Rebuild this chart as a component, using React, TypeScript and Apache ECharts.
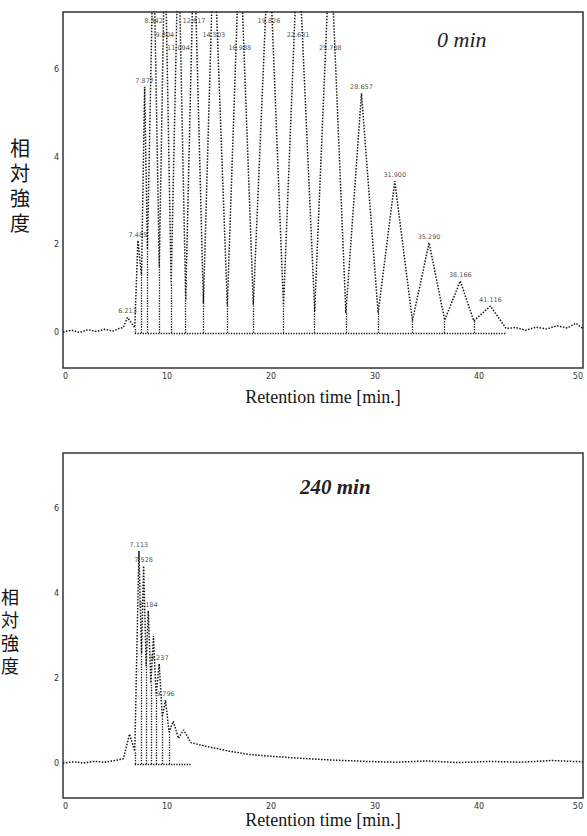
import React, { useEffect, useRef } from "react";
import * as echarts from "echarts";

// ---------- Top panel (0 min) ----------
const topNoiseBefore: [number, number][] = [
  [0, 0.02], [0.8, 0.06], [1.6, 0.01], [2.4, 0.07], [3.2, 0.03], [4.0, 0.08], [4.8, 0.04], [5.4, 0.1], [5.8, 0.12],
];
const topPeakTimes = [6.2, 7.2, 7.85, 8.7, 9.8, 11.1, 12.6, 14.5, 17.0, 19.8, 22.6, 25.7, 28.7, 31.9, 35.2, 38.2, 41.1];
const topPeakHeights = [0.35, 2.1, 5.6, 9, 9, 9, 9, 9, 9, 9, 9, 9, 5.45, 3.45, 2.05, 1.18, 0.61];
const topPeakLabels = [
  "6.213", "7.485", "7.877", "8.342", "9.804", "11.094", "12.617", "14.503", "16.988",
  "19.826", "22.631", "25.708", "28.657", "31.900", "35.290", "38.166", "41.116",
];
const topValleyTimes = [6.9, 7.55, 8.12, 9.26, 10.4, 11.8, 13.5, 15.8, 18.3, 21.2, 24.2, 27.2, 30.3, 33.6, 36.7, 39.5, 42.6];
const topValleyHeights = [0.12, 1.3, 1.9, 1.5, 1.1, 0.75, 0.66, 0.62, 0.64, 0.6, 0.5, 0.45, 0.45, 0.28, 0.29, 0.27, 0.1];
const topNoiseAfter: [number, number][] = [
  [43.5, 0.12], [44.5, 0.06], [45.5, 0.13], [46.5, 0.09], [47.5, 0.16], [48.5, 0.11], [49.3, 0.22], [50, 0.1],
];

// ---------- Bottom panel (240 min) ----------
const botNoiseBefore: [number, number][] = [
  [0, 0.02], [1, 0.05], [2, 0.02], [3, 0.06], [4, 0.04], [5, 0.08], [5.8, 0.12],
];
const botPeakTimes = [6.4, 7.3, 7.75, 8.2, 8.7, 9.25, 9.85, 10.6, 11.6];
const botPeakHeights = [0.7, 5.0, 4.65, 3.6, 3.0, 2.35, 1.5, 1.0, 0.8];
const botPeakLabels = ["", "7.113", "7.528", "8.184", "", "9.237", "9.796", "", ""];
const botValleyTimes = [6.9, 7.55, 8.0, 8.45, 8.95, 9.55, 10.2, 11.1, 12.3];
const botValleyHeights = [0.3, 2.6, 2.3, 1.9, 1.6, 1.1, 0.75, 0.6, 0.5];
const botNoiseAfter: [number, number][] = [
  [14, 0.4], [16, 0.3], [18, 0.22], [20, 0.18], [23, 0.13], [26, 0.09], [29, 0.06], [32, 0.04],
  [35, 0.07], [38, 0.03], [41, 0.06], [44, 0.04], [47, 0.08], [50, 0.05],
];

const xTicks = [0, 10, 20, 30, 40, 50];
const yTicks = [0, 2, 4, 6];
const yName = ["相", "対", "強", "度"];
const Y_MIN = -0.8;
const Y_MAX = 7.3;
const LABEL_LEVELS = [6.95, 6.65, 6.35];

function buildTrace(
  before: [number, number][],
  pt: number[], ph: number[], vt: number[], vh: number[],
  after: [number, number][]
) {
  const pts: [number, number][] = [...before];
  pt.forEach((t, i) => pts.push([t, ph[i]]));
  vt.forEach((t, i) => pts.push([t, vh[i]]));
  pts.push(...after);
  pts.sort((a, b) => a[0] - b[0]);
  return pts;
}

function dropLines(vt: number[], vh: number[], n: number) {
  const lines: any[] = [];
  for (let i = 0; i < n; i++) {
    lines.push([{ coord: [vt[i], 0] }, { coord: [vt[i], vh[i]] }]);
  }
  lines.push([{ coord: [vt[0], 0] }, { coord: [vt[vt.length - 1], 0] }]);
  return lines;
}

const INK = "#151515";

function panelSeries(idx: number, trace: [number, number][], drops: any[], pt: number[], ph: number[], labels: string[]) {
  let sat = 0;
  const labelData = pt
    .map((t, i) => {
      let y = ph[i];
      if (y > LABEL_LEVELS[0]) {
        y = LABEL_LEVELS[sat % LABEL_LEVELS.length];
        sat++;
      }
      return [t, y, labels[i]];
    })
    .filter((d) => d[2] !== "");
  return [
    {
      type: "line",
      xAxisIndex: idx,
      yAxisIndex: idx,
      data: trace,
      showSymbol: false,
      symbol: "none",
      clip: true,
      silent: true,
      lineStyle: { color: INK, width: 1.5, type: "dotted" },
      markLine: {
        symbol: "none",
        silent: true,
        label: { show: false },
        lineStyle: { color: INK, width: 1.3, type: "dotted" },
        data: drops,
      },
    },
    {
      type: "scatter",
      xAxisIndex: idx,
      yAxisIndex: idx,
      silent: true,
      symbolSize: 1,
      itemStyle: { color: "rgba(0,0,0,0)" },
      data: labelData,
      label: {
        show: true,
        position: "top",
        distance: 2,
        fontSize: 6.5,
        fontFamily: "DejaVu Sans",
        color: "#222",
        textBorderWidth: 0,
        formatter: (p: any) => p.data[2],
      },
    },
  ];
}

function verticalName(left: number, top: number, size: number, step: number) {
  return yName.map((ch, i) => ({
    type: "text",
    left,
    top: top + i * step,
    style: { text: ch, fontFamily: "Noto Sans CJK JP", fontSize: size, fill: INK },
  }));
}

export default function App() {
  const ref = useRef<HTMLDivElement>(null);
  useEffect(() => {
    if (!ref.current) return;
    const chart = echarts.init(ref.current, null, { renderer: "svg" });
    const topTrace = buildTrace(topNoiseBefore, topPeakTimes, topPeakHeights, topValleyTimes, topValleyHeights, topNoiseAfter);
    const botTrace = buildTrace(botNoiseBefore, botPeakTimes, botPeakHeights, botValleyTimes, botValleyHeights, botNoiseAfter);

    const xAxisBase = (i: number, gap: number) => ({
      gridIndex: i,
      type: "value",
      min: xTicks[0],
      max: xTicks[xTicks.length - 1],
      interval: 10,
      axisLine: { show: false, onZero: false },
      axisTick: { show: false },
      splitLine: { show: false },
      axisLabel: {
        fontSize: 8,
        color: "#333",
        margin: 4,
        fontFamily: "DejaVu Sans",
        alignMaxLabel: "right",
        alignMinLabel: "left",
      },
      name: "Retention time [min.]",
      nameLocation: "middle",
      nameGap: gap,
      nameTextStyle: { fontFamily: "Liberation Serif", fontSize: 18, color: INK },
    });
    const yAxisBase = (i: number) => ({
      gridIndex: i,
      type: "value",
      min: Y_MIN,
      max: Y_MAX,
      axisLine: { show: false },
      axisTick: { show: false },
      splitLine: { show: false },
      axisLabel: {
        customValues: yTicks,
        fontSize: 8,
        color: "#333",
        margin: 4,
        fontFamily: "DejaVu Sans",
      },
    });

    chart.setOption({
      animation: false,
      backgroundColor: "#ffffff",
      grid: [
        { left: 63, top: 12, width: 520, height: 356, show: true, borderColor: "#333", borderWidth: 1.5, backgroundColor: "transparent" },
        { left: 63, top: 453, width: 520, height: 345, show: true, borderColor: "#333", borderWidth: 1.5, backgroundColor: "transparent" },
      ],
      xAxis: [xAxisBase(0, 20), xAxisBase(1, 10)],
      yAxis: [yAxisBase(0), yAxisBase(1)],
      series: [
        ...panelSeries(0, topTrace, dropLines(topValleyTimes, topValleyHeights, 16), topPeakTimes, topPeakHeights, topPeakLabels),
        ...panelSeries(1, botTrace, dropLines(botValleyTimes, botValleyHeights, 7), botPeakTimes, botPeakHeights, botPeakLabels),
      ],
      graphic: [
        {
          type: "text",
          left: 437,
          top: 28,
          style: { text: "0 min", fontFamily: "Liberation Serif", fontStyle: "italic", fontSize: 22, fill: "#222" },
        },
        {
          type: "text",
          left: 300,
          top: 476,
          style: { text: "240 min", fontFamily: "Liberation Serif", fontStyle: "italic", fontWeight: "bold", fontSize: 21, fill: "#222" },
        },
        ...verticalName(10, 137, 20, 25),
        ...verticalName(1, 587, 18, 23),
      ],
    });
    return () => chart.dispose();
  }, []);
  return (
    <div
      ref={ref}
      style={{ position: "fixed", left: 0, top: 0, width: 587, height: 836, background: "#fff" }}
    />
  );
}
